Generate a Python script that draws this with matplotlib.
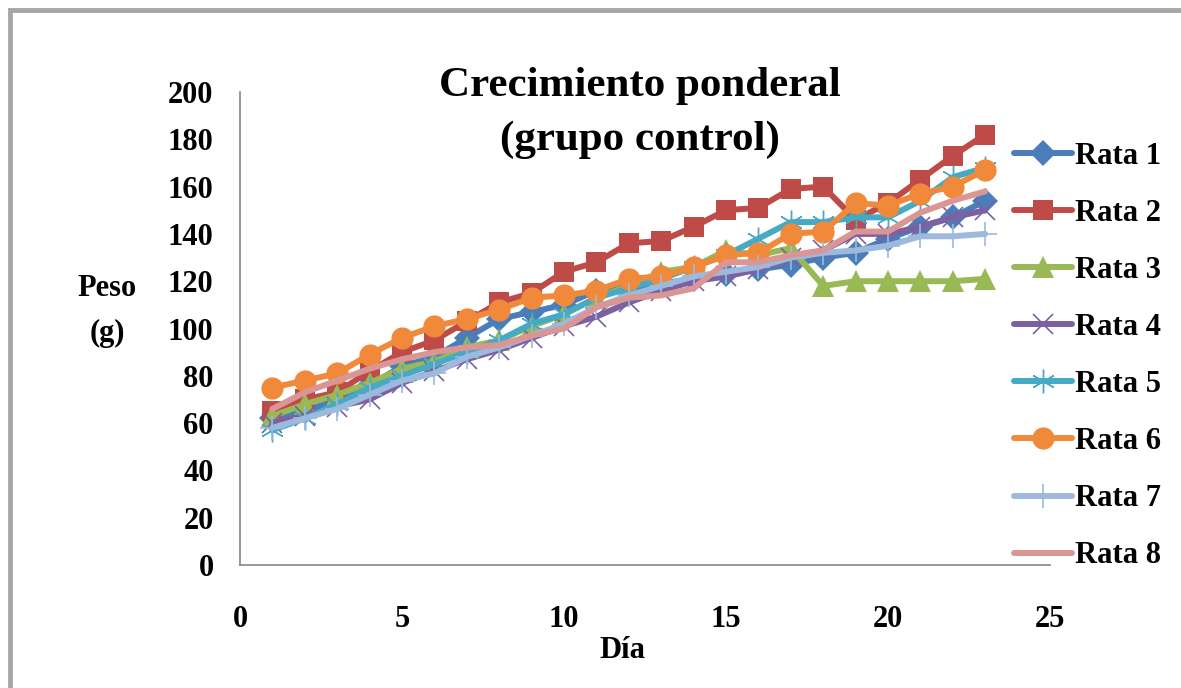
import matplotlib
matplotlib.use("Agg")
import matplotlib.pyplot as plt
from matplotlib.patches import Rectangle

days = list(range(1, 24))
rata1 = [62, 65, 70, 76, 84, 88, 96, 104, 107, 110, 116, 117, 119, 121, 123, 125, 127, 130, 132, 138, 143, 147, 154]
rata2 = [65, 70, 73, 82, 90, 95, 103, 111, 115, 124, 128, 136, 137, 143, 150, 151, 159, 160, 146, 153, 163, 173, 182]
rata3 = [63, 68, 72, 77, 83, 86, 92, 95, 101, 106, 113, 118, 124, 126, 133, 131, 134, 118, 120, 120, 120, 120, 121]
rata4 = [60, 63, 67, 70, 77, 82, 87, 91, 96, 101, 105, 111, 116, 120, 122, 125, 130, 133, 140, 140, 143, 147, 150]
rata5 = [57, 62, 68, 75, 80, 85, 90, 95, 102, 106, 113, 117, 121, 126, 131, 138, 145, 145, 147, 147, 154, 164, 168]
rata6 = [75, 78, 81, 89, 96, 101, 104, 108, 113, 114, 116, 121, 122, 126, 131, 132, 140, 141, 153, 152, 157, 160, 167]
rata7 = [58, 62, 66, 72, 78, 81, 88, 92, 97, 102, 109, 114, 118, 122, 124, 126, 130, 132, 133, 135, 139, 139, 140]
rata8 = [66, 73, 78, 83, 87, 90, 92, 93, 97, 100, 109, 113, 114, 117, 128, 128, 131, 133, 141, 141, 149, 154, 158]
labels = ["Rata 1", "Rata 2", "Rata 3", "Rata 4", "Rata 5", "Rata 6", "Rata 7", "Rata 8"]
x_ticks = [0, 5, 10, 15, 20, 25]
y_ticks = [0, 20, 40, 60, 80, 100, 120, 140, 160, 180, 200]

series = [rata1, rata2, rata3, rata4, rata5, rata6, rata7, rata8]
styles = [
    dict(color="#4A7EBB", marker="D", ms=13, mew=0),
    dict(color="#BE4B48", marker="s", ms=15, mew=0),
    dict(color="#98B954", marker="^", ms=16, mew=0),
    dict(color="#7D60A0", marker="x", ms=15, mew=1.2),
    dict(color="#46AAC5", marker=(6, 2, 0), ms=17, mew=1.0),
    dict(color="#F08A3A", marker="o", ms=16, mew=0),
    dict(color="#9DB9DD", marker="+", ms=17, mew=1.2),
    dict(color="#DA9694", marker=None, ms=0, mew=0),
]

plt.rcParams['font.family'] = ['Liberation Serif', 'DejaVu Serif']
plt.rcParams['font.weight'] = 'bold'

fig = plt.figure(figsize=(11.81, 6.88), dpi=100)
fig.patches.append(Rectangle((10/1181, -0.1), 1.2, (688-10)/688 + 0.1, transform=fig.transFigure,
                             fill=False, edgecolor="#A6A6A6", linewidth=3.5))
ax = fig.add_axes([240/1181, 1-565/688, 810/1181, 473/688])

for vals, lab, st in zip(series, labels, styles):
    ax.plot(days, vals, label=lab, color=st["color"], lw=4.3, marker=st["marker"],
            markersize=st["ms"], markeredgewidth=st["mew"], markeredgecolor=st["color"],
            markerfacecolor=st["color"], solid_capstyle="round")

ax.set_xlim(0, 25)
ax.set_ylim(0, 200)
ax.set_xticks(x_ticks)
ax.set_yticks(y_ticks)
ax.tick_params(length=0, labelsize=22)
ax.tick_params(axis="y", pad=19)
ax.tick_params(axis="x", pad=29)
for s in ["top", "right"]:
    ax.spines[s].set_visible(False)
for s in ["left", "bottom"]:
    ax.spines[s].set_color("#868686")
    ax.spines[s].set_linewidth(1.2)
for t in ax.get_xticklabels() + ax.get_yticklabels():
    t.set_fontweight("bold")

fig.text(107/1181, 1-311/688, "Peso\n(g)", ha="center", va="center", fontsize=22,
         fontweight="bold", linespacing=1.7)
fig.text(622/1181, 1-650/688, "Día", ha="center", va="center", fontsize=22, fontweight="bold")
fig.text(640/1181, 1-113/688, "Crecimiento ponderal\n(grupo control)", ha="center", va="center",
         fontsize=31, fontweight="bold", linespacing=1.55)

leg = ax.legend(loc="center left", bbox_to_anchor=(1002/1181, 1-356/688), bbox_transform=fig.transFigure,
                frameon=False, prop=dict(size=22, weight="bold"), handlelength=1.9,
                handletextpad=0.1, labelspacing=0.92, borderaxespad=0)

fig.savefig("out.png", dpi=100)
